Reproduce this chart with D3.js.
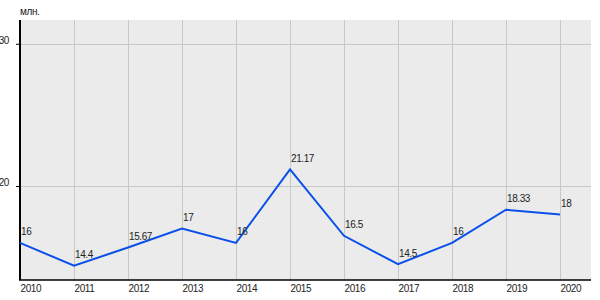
<!DOCTYPE html>
<meta charset="utf-8">
<style>
  body { margin: 0; background: #fff; }
  svg { display: block; font-family: "Liberation Sans", Arial, sans-serif; }
  text { font-size: 10px; letter-spacing: -0.4px; fill: #222; }
</style>
<svg></svg>
<script src="https://cdn.jsdelivr.net/npm/d3@7"></script>
<script>
// chart data
var years = [2010, 2011, 2012, 2013, 2014, 2015, 2016, 2017, 2018, 2019, 2020];
var values = [16, 14.4, 15.67, 17, 16, 21.17, 16.5, 14.5, 16, 18.33, 18];
var valueLabels = ["16", "14.4", "15.67", "17", "16", "21.17", "16.5", "14.5", "16", "18.33", "18"];
var yTicks = [20, 30];
var unitLabel = "млн.";

var width = 600, height = 300;
var plot = {left: 20, right: 591, top: 20, bottom: 280};

var svg = d3.select("svg")
    .attr("width", width)
    .attr("height", height);

// scales
var x = d3.scaleLinear()
    .domain([2010, 2020])
    .range([plot.left, 560]);

var y = d3.scaleLinear()
    .domain([13.39, 31.67])
    .range([plot.bottom, plot.top]);

// background
svg.append("rect")
    .attr("x", plot.left)
    .attr("y", plot.top)
    .attr("width", plot.right - plot.left)
    .attr("height", plot.bottom - plot.top)
    .attr("fill", "#ebebeb");

// vertical grid
svg.append("g")
  .selectAll("line")
  .data(years.slice(1))
  .join("line")
    .attr("x1", function(d) { return x(d) + 0.5; })
    .attr("x2", function(d) { return x(d) + 0.5; })
    .attr("y1", plot.top)
    .attr("y2", plot.bottom)
    .attr("stroke", "#c8c8c8")
    .attr("stroke-width", 1);

// horizontal grid
svg.append("g")
  .selectAll("line")
  .data(yTicks)
  .join("line")
    .attr("x1", plot.left)
    .attr("x2", plot.right)
    .attr("y1", function(d) { return Math.round(y(d)) + 0.5; })
    .attr("y2", function(d) { return Math.round(y(d)) + 0.5; })
    .attr("stroke", "#c8c8c8")
    .attr("stroke-width", 1);

// y axis
var yAxis = svg.append("g")
    .attr("transform", "translate(" + plot.left + ",0)")
    .call(d3.axisLeft(y).tickValues(yTicks).tickSize(4).tickPadding(7).tickFormat(d3.format("d")));
yAxis.select(".domain").remove();
yAxis.selectAll(".tick line").attr("stroke", "#000");
yAxis.selectAll(".tick text")
    .attr("dy", "0")
    .attr("font-size", null)
    .attr("font-family", null)
    .attr("fill", null);

svg.append("line")
    .attr("x1", plot.left).attr("x2", plot.left)
    .attr("y1", plot.top).attr("y2", plot.bottom)
    .attr("stroke", "#000")
    .attr("stroke-width", 2);

// x axis
var xAxis = svg.append("g")
    .attr("transform", "translate(0," + plot.bottom + ")")
    .call(d3.axisBottom(x).tickValues(years).tickSize(0).tickPadding(0).tickFormat(d3.format("d")));
xAxis.select(".domain").remove();
xAxis.selectAll(".tick text")
    .attr("y", 12)
    .attr("dy", "0")
    .attr("text-anchor", "start")
    .attr("font-size", null)
    .attr("font-family", null)
    .attr("fill", null);

svg.append("line")
    .attr("x1", plot.left - 1).attr("x2", plot.right)
    .attr("y1", plot.bottom).attr("y2", plot.bottom)
    .attr("stroke", "#000")
    .attr("stroke-width", 1.5);

// unit label
svg.append("text")
    .attr("x", plot.left)
    .attr("y", 15)
    .text(unitLabel);

// line
var line = d3.line()
    .x(function(d, i) { return x(years[i]); })
    .y(function(d) { return y(d); });

svg.append("path")
    .datum(values)
    .attr("d", line)
    .attr("fill", "none")
    .attr("stroke", "#0a50e8")
    .attr("stroke-width", 2);

// value labels
svg.append("g")
  .selectAll("text")
  .data(values)
  .join("text")
    .attr("x", function(d, i) { return x(years[i]) + 1; })
    .attr("y", function(d) { return y(d) - 7.5; })
    .text(function(d, i) { return valueLabels[i]; });
</script>
